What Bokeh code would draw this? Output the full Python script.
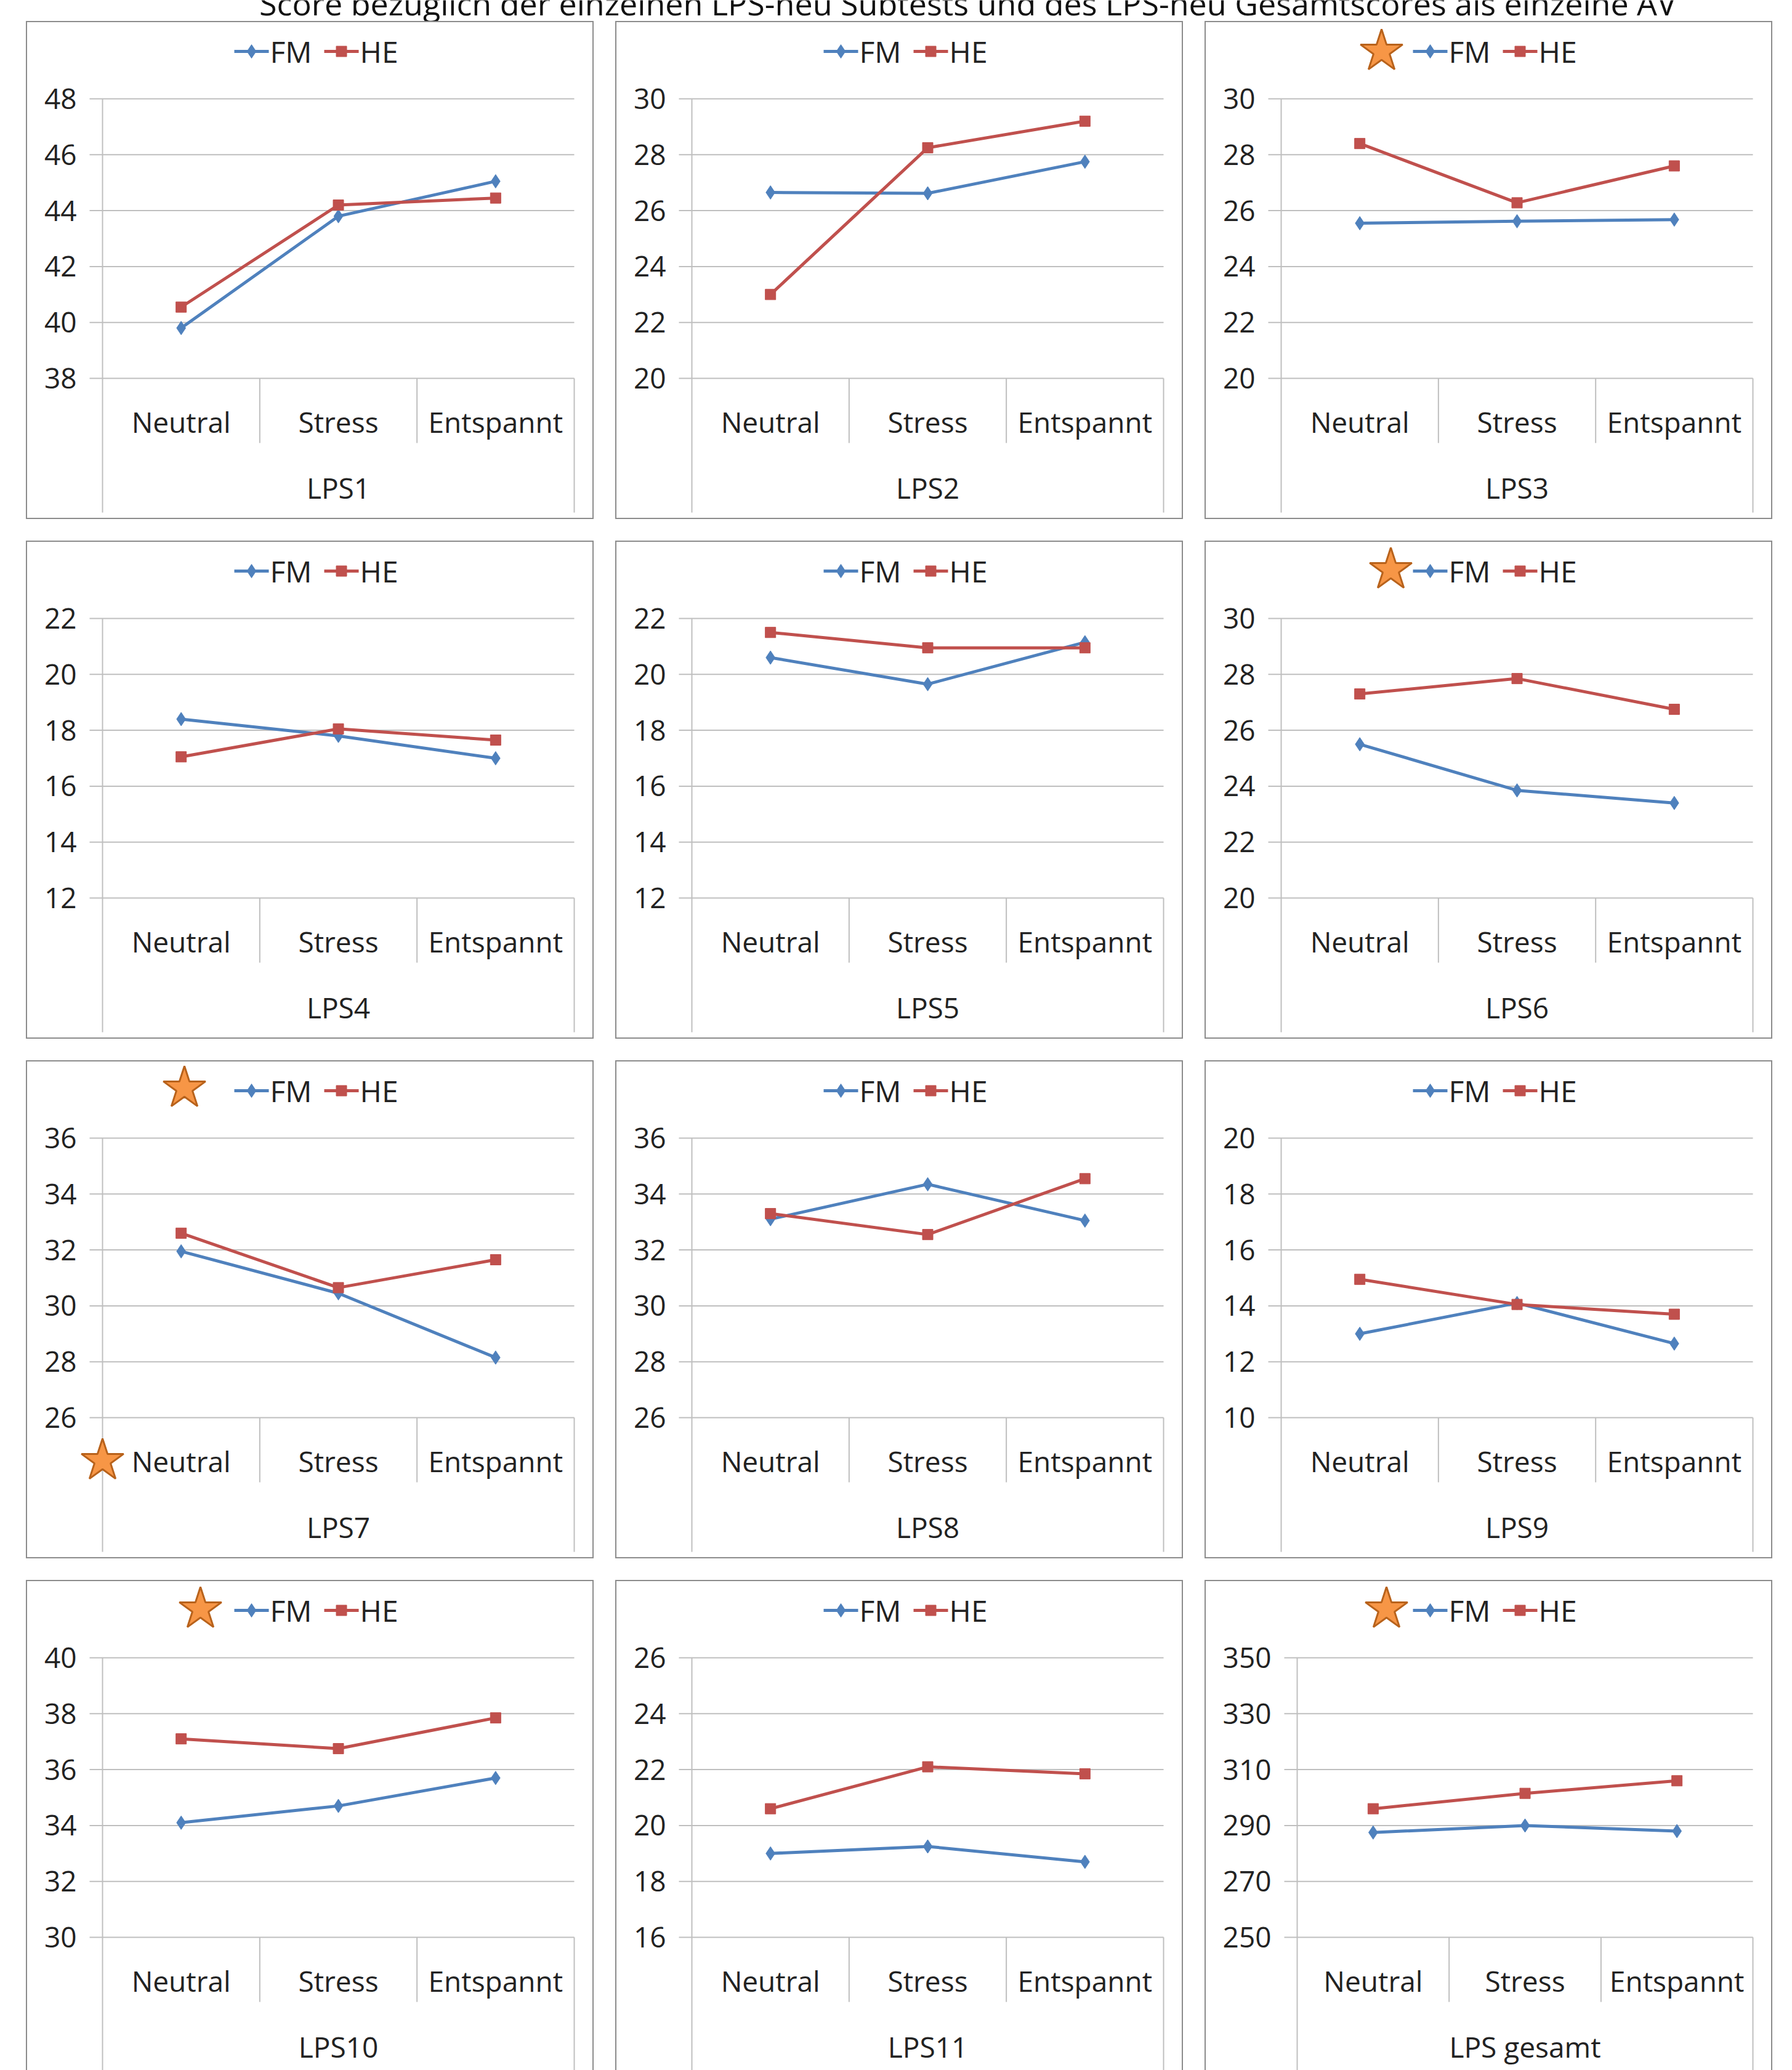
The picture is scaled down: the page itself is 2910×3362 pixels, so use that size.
from bokeh.plotting import figure
from bokeh.layouts import column, row
from bokeh.models import Range1d, Spacer
from bokeh.core.properties import value
from bokeh.embed import file_html
from bokeh.resources import INLINE

cats = ["Neutral", "Stress", "Entspannt"]
names = ["LPS1", "LPS2", "LPS3", "LPS4", "LPS5", "LPS6",
         "LPS7", "LPS8", "LPS9", "LPS10", "LPS11", "LPS gesamt"]
fm = [[39.8, 43.8, 45.05], [26.65, 26.62, 27.75], [25.55, 25.62, 25.68],
      [18.4, 17.8, 17.0], [20.6, 19.65, 21.15], [25.5, 23.85, 23.4],
      [31.95, 30.45, 28.15], [33.1, 34.35, 33.05], [13.0, 14.1, 12.65],
      [34.1, 34.7, 35.7], [19.0, 19.25, 18.7], [287.5, 290.0, 288.0]]
he = [[40.55, 44.2, 44.45], [23.0, 28.25, 29.2], [28.4, 26.28, 27.6],
      [17.05, 18.05, 17.65], [21.5, 20.95, 20.95], [27.3, 27.85, 26.75],
      [32.6, 30.65, 31.65], [33.3, 32.55, 34.55], [14.95, 14.05, 13.7],
      [37.1, 36.75, 37.85], [20.6, 22.1, 21.85], [296.0, 301.5, 306.0]]
ymins = [38, 20, 20, 12, 12, 20, 26, 26, 10, 30, 16, 250]
steps = [2, 2, 2, 2, 2, 2, 2, 2, 2, 2, 2, 20]
# stars: panel index -> list of (px, py) positions inside the panel
stars = {2: [(287, 49)], 5: [(302, 47)], 6: [(257, 45), (124, 650)],
         9: [(283, 47)], 11: [(295, 47)]}
title = "Score bezüglich der einzelnen LPS-neu Subtests und des LPS-neu Gesamtscores als einzelne AV"

FONT = value("Open Sans")
W, H = 922, 809
BLUE, RED = "#4F81BD", "#C0504D"


def panel(i):
    axis_px = 150 if i == 11 else 124
    right_px = 890
    sp = (right_px - axis_px) / 3
    x0 = axis_px + sp / 2
    ymin, step = ymins[i], steps[i]
    ymax = ymin + 5 * step
    top_px, bot_px = 126, 580
    k = (ymax - ymin) / (bot_px - top_px)

    def X(px):
        return (px - x0) / sp

    def Y(py):
        return ymin + (bot_px - py) * k

    p = figure(width=W, height=H, output_backend="svg", toolbar_location=None,
               x_range=Range1d(X(0), X(W)), y_range=Range1d(Y(H), Y(0)),
               min_border=0, outline_line_color="#8C8C8C", outline_line_width=3)
    p.axis.visible = False
    p.grid.visible = False
    ticks = [ymin + step * j for j in range(6)]
    p.segment(x0=[X(axis_px - 21)] * 6, x1=[X(right_px)] * 6, y0=ticks, y1=ticks,
              line_color="#BFBFBF", line_width=2)
    p.text(x=[X(axis_px - 42)] * 6, y=ticks, text=[str(t) for t in ticks],
           text_align="right", text_baseline="middle", text_font=FONT,
           text_font_size="46px", text_color="#222222")
    # axis + separators
    p.segment(x0=[X(axis_px), X(axis_px + sp), X(axis_px + 2 * sp), X(right_px)],
              x1=[X(axis_px), X(axis_px + sp), X(axis_px + 2 * sp), X(right_px)],
              y0=[Y(top_px), Y(bot_px), Y(bot_px), Y(bot_px)],
              y1=[Y(798), Y(685), Y(685), Y(798)], line_color="#BFBFBF", line_width=2)
    p.text(x=[0, 1, 2], y=[Y(650)] * 3, text=cats, text_align="center",
           text_baseline="middle", text_font=FONT, text_font_size="46px",
           text_color="#222222")
    p.text(x=[1], y=[Y(757)], text=[names[i]], text_align="center",
           text_baseline="middle", text_font=FONT, text_font_size="46px",
           text_color="#222222")
    xs = [0, 1, 2]
    p.line(xs, fm[i], line_color=BLUE, line_width=5)
    p.scatter(xs, fm[i], marker="diamond", size=22, color=BLUE)
    p.line(xs, he[i], line_color=RED, line_width=5)
    p.scatter(xs, he[i], marker="square", size=17, color=RED)
    # legend
    ly = Y(49)
    p.line([X(338), X(394)], [ly, ly], line_color=BLUE, line_width=5)
    p.scatter([X(366)], [ly], marker="diamond", size=22, color=BLUE)
    p.line([X(484), X(540)], [ly, ly], line_color=RED, line_width=5)
    p.scatter([X(512)], [ly], marker="square", size=17, color=RED)
    p.text(x=[X(396), X(542)], y=[ly, ly], text=["FM", "HE"], text_baseline="middle",
           text_font=FONT, text_font_size="48px", text_color="#222222")
    for (sx, sy) in stars.get(i, []):
        p.scatter([X(sx)], [Y(sy)], marker="star", size=72, fill_color="#F79646",
                  line_color="#B8621B", line_width=3)
    return p


t = figure(width=2870, height=34, output_backend="svg", toolbar_location=None,
           x_range=Range1d(0, 2870), y_range=Range1d(0, 34), min_border=0,
           outline_line_color=None)
t.axis.visible = False
t.grid.visible = False
t.text(x=[1571], y=[30], text=[title], text_align="center", text_baseline="alphabetic",
       text_font=FONT, text_font_size="52px", text_color="#111111")

panels = [panel(i) for i in range(12)]
kids = [t]
for r in range(4):
    if r > 0:
        kids.append(Spacer(height=35))
    kids.append(row(Spacer(width=42), row(panels[r * 3:r * 3 + 3], spacing=35)))
p = column(kids, spacing=0)

open("out.html", "w").write(file_html(p, INLINE))
